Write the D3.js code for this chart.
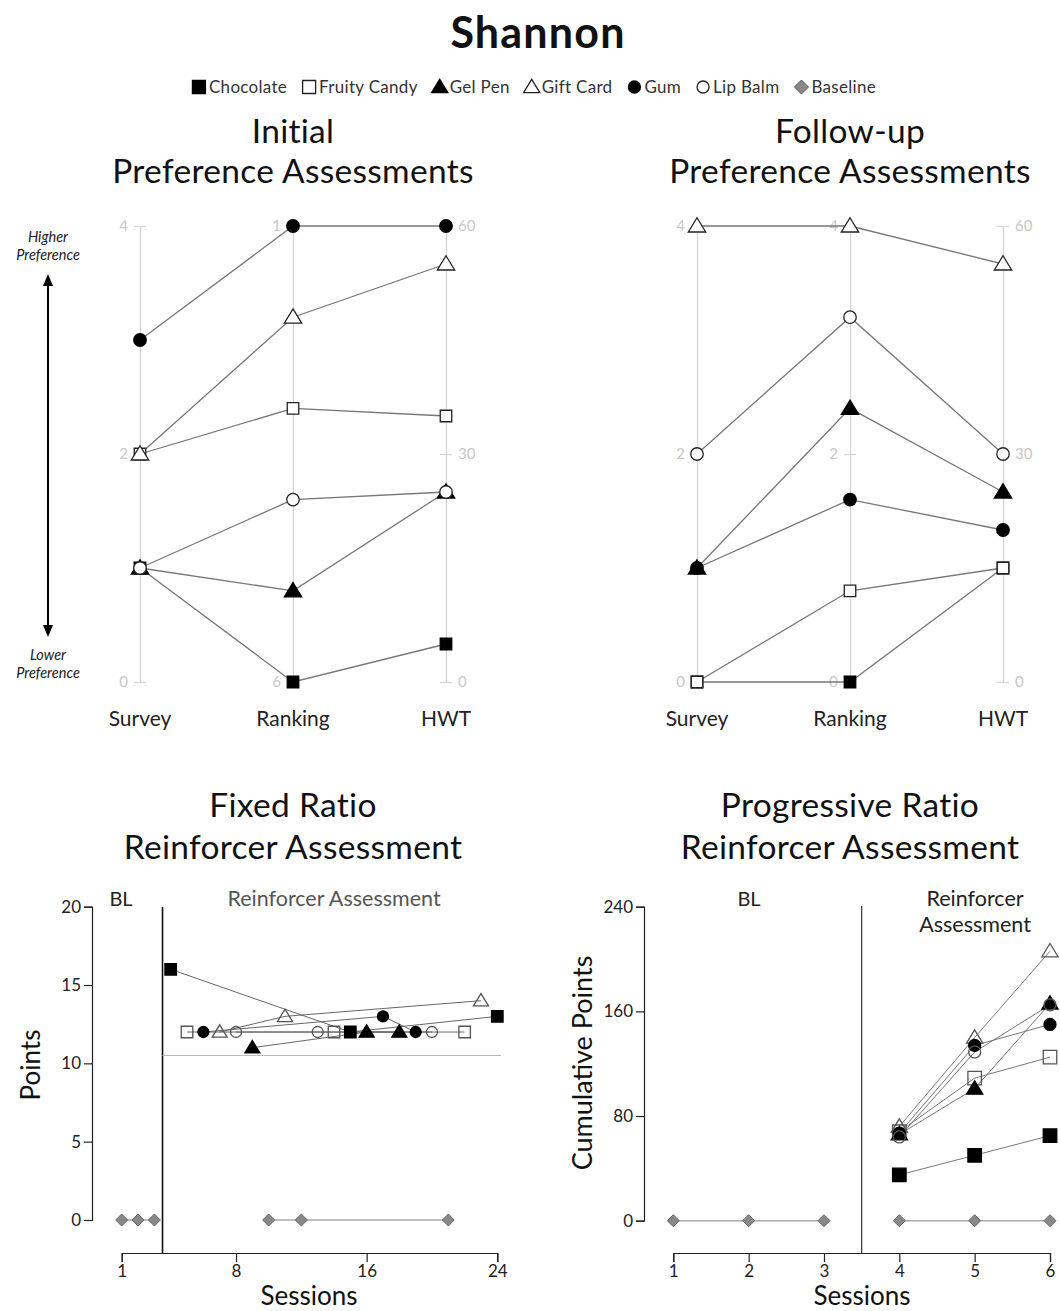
<!DOCTYPE html>
<html><head><meta charset="utf-8">
<script src="https://cdn.jsdelivr.net/npm/d3@7"></script>
<style>body{margin:0;background:#fff}</style>
</head><body>
<script>
// ---------- DATA ----------
const items = ["Chocolate","Fruity Candy","Gel Pen","Gift Card","Gum","Lip Balm"];
const shapes = ["square","square","triangle","triangle","circle","circle"];
const filled = [true,false,true,false,true,false];
const prefAxes = ["Survey","Ranking","HWT"];

const initialSurvey  = [1,2,1,2,3,1];
const initialRanking = [6,3,5,2,1,4];
const initialHWT     = [5,35,25,55,60,25];

const followSurvey  = [0,0,1,4,1,2];
const followRanking = [0,0.8,2.4,4,1.6,3.2];
const followHWT     = [15,15,25,55,20,30];

const surveyTicks = [0,2,4];
const initRankTicks = [1,6];
const followRankTicks = [0,2,4];
const hwtTicks = [0,30,60];

// Fixed ratio: [session, points]
const frChocolate   = [[4,16],[15,12],[24,13]];
const frFruityCandy = [[5,12],[14,12],[22,12]];
const frGelPen      = [[9,11],[16,12],[18,12]];
const frGiftCard    = [[7,12],[11,13],[23,14]];
const frGum         = [[6,12],[17,13],[19,12]];
const frLipBalm     = [[8,12],[13,12],[20,12]];
const frBaselineA   = [[1,0],[2,0],[3,0]];
const frBaselineB   = [[10,0],[12,0],[21,0]];
const frCriterion   = 10.5;
const frXTicks = [1,8,16,24];
const frYTicks = [0,5,10,15,20];

// Progressive ratio
const prSessions   = [4,5,6];
const prChocolate  = [35,50,65];
const prFruityCandy= [68,109,125];
const prGelPen     = [66,101,166];
const prGiftCard   = [72,140,206];
const prGum        = [67,134,150];
const prLipBalm    = [64,129,165];
const prBaselineA  = [[1,0],[2,0],[3,0]];
const prBaselineB  = [[4,0],[5,0],[6,0]];
const prXTicks = [1,2,3,4,5,6];
const prYTicks = [0,80,160,240];

// ---------- SETUP ----------
const F = "Lato, 'Noto Sans', sans-serif";
const fmt = d3.format("d");
const svg = d3.select("body").append("svg").attr("width",1060).attr("height",1311)
  .style("font-family",F);

function markerPath(shape, s){
  const h = s/2;
  if(shape==="square") return `M${-h},${-h}H${h}V${h}H${-h}Z`;
  if(shape==="circle") return `M${h},0A${h},${h} 0 1,1 ${-h},0A${h},${h} 0 1,1 ${h},0Z`;
  if(shape==="triangle"){ const w=s*0.58, t=s*0.55, b=s*0.4; return `M0,${-t}L${w},${b}L${-w},${b}Z`; }
  if(shape==="diamond") return `M0,${-h}L${h},0L0,${h}L${-h},0Z`;
}
function drawMarker(g, shape, isFilled, x, y, s, openFill, strokeCol){
  g.append("path").attr("d", markerPath(shape,s))
   .attr("transform",`translate(${x},${y})`)
   .attr("fill", isFilled? "#000" : openFill)
   .attr("stroke", isFilled? "#000" : strokeCol)
   .attr("stroke-width", 1.3);
}

// ---------- TITLE & LEGEND ----------
svg.append("text").attr("x",538).attr("y",48).attr("text-anchor","middle")
  .attr("font-size",43).attr("letter-spacing",1.2).attr("font-weight","bold").attr("fill","#111").text("Shannon");

const legNames = items.concat(["Baseline"]);
const legShapes = shapes.concat(["diamond"]);
const legFilled = filled.concat([null]);
const leg = svg.append("g");
let lx = 0;
const legGap = 15;
legNames.forEach((n,i)=>{
  const g = leg.append("g").attr("transform",`translate(${lx},0)`);
  const sz = legShapes[i]==="triangle"?14:(legShapes[i]==="circle"?12:13);
  if(legShapes[i]==="diamond"){
    g.append("path").attr("d",markerPath("diamond",14)).attr("transform","translate(7,-6)")
     .attr("fill","#888").attr("stroke","#555").attr("stroke-width",1);
  } else {
    drawMarker(g, legShapes[i], legFilled[i], 7, -6, sz, "#fff", "#222");
  }
  const t = g.append("text").attr("x",17).attr("y",0).attr("font-size",17).attr("letter-spacing",0.3).attr("fill","#333").text(n);
  lx += 17 + t.node().getComputedTextLength() + legGap;
});
lx -= legGap;
leg.attr("transform",`translate(${534 - lx/2},93)`);

// ---------- PREFERENCE PANELS ----------
const yTop = 226, yBot = 682;
function bigTitle(cx, y, t){
  svg.append("text").attr("x",cx).attr("y",y).attr("text-anchor","middle").attr("font-size",33.5)
    .attr("letter-spacing",0.3).attr("fill","#111").text(t);
}
function prefPanel(cx, title, survey, ranking, hwt, rankDomain, rankTicks){
  const xs = [cx-153, cx, cx+153];
  bigTitle(cx,143,title[0]);
  bigTitle(cx,183,title[1]);
  const ySurvey = d3.scaleLinear().domain([0,4]).range([yBot,yTop]);
  const yRank = d3.scaleLinear().domain(rankDomain).range([yBot,yTop]);
  const yHWT = d3.scaleLinear().domain([0,60]).range([yBot,yTop]);
  const scales = [ySurvey,yRank,yHWT];
  const defs = [[d3.axisLeft(ySurvey).tickValues(surveyTicks),-1],[d3.axisLeft(yRank).tickValues(rankTicks),-1],[d3.axisRight(yHWT).tickValues(hwtTicks),1]];
  defs.forEach(([ax,side],i)=>{
    const g = svg.append("g").attr("transform",`translate(${xs[i]},0)`).call(ax.tickFormat(fmt).tickSizeOuter(0).tickSizeInner(6));
    g.select(".domain").attr("stroke","#d4d4d4").attr("stroke-width",1.3);
    g.selectAll(".tick line").attr("x1",-6).attr("x2",6).attr("stroke","#d4d4d4").attr("stroke-width",1.3);
    g.selectAll(".tick text").attr("x", side*12).attr("font-size",15).attr("fill","#c8c8c8").attr("font-family",F);
    svg.append("text").attr("x",xs[i]).attr("y",726).attr("text-anchor","middle").attr("font-size",21).attr("fill","#222").text(prefAxes[i]);
  });
  const line = d3.line();
  items.forEach((n,k)=>{
    const vals=[survey[k],ranking[k],hwt[k]];
    svg.append("path").attr("d", line(vals.map((v,i)=>[xs[i],scales[i](v)])))
      .attr("fill","none").attr("stroke","#777").attr("stroke-width",1.3);
  });
  const mg = svg.append("g");
  items.forEach((n,k)=>{
    const vals=[survey[k],ranking[k],hwt[k]];
    const s = shapes[k]==="triangle"?15:(shapes[k]==="circle"?12.5:11.5);
    vals.forEach((v,i)=>drawMarker(mg, shapes[k], filled[k], xs[i], scales[i](v), s, "#fff", "#222"));
  });
}
prefPanel(293, ["Initial","Preference Assessments"], initialSurvey, initialRanking, initialHWT, [6,1], initRankTicks);
prefPanel(850, ["Follow-up","Preference Assessments"], followSurvey, followRanking, followHWT, [0,4], followRankTicks);

// arrow annotation
const ag = svg.append("g");
ag.append("line").attr("x1",48).attr("x2",48).attr("y1",282).attr("y2",628).attr("stroke","#000").attr("stroke-width",2);
ag.append("path").attr("d","M48,274L43,286L53,286Z").attr("fill","#000");
ag.append("path").attr("d","M48,637L43,625L53,625Z").attr("fill","#000");
[["Higher",242],["Preference",260],["Lower",660],["Preference",678]].forEach(([t,y])=>{
  ag.append("text").attr("x",48).attr("y",y).attr("text-anchor","middle").attr("font-size",14.5)
    .attr("font-style","italic").attr("fill","#222").text(t);
});

// ---------- BOTTOM PANELS ----------
function titles(cx, a, b){
  bigTitle(cx,817,a);
  bigTitle(cx,859,b);
}
function styleAxis(g){
  g.select(".domain").attr("stroke","#222").attr("stroke-width",1.2);
  g.selectAll(".tick line").attr("stroke","#222").attr("stroke-width",1.2);
  g.selectAll(".tick text").attr("font-size",17).attr("fill","#222").attr("font-family",F);
}
const xAxisY = 1253;

// Fixed ratio
titles(293,"Fixed Ratio","Reinforcer Assessment");
const frX = d3.scaleLinear().domain([1,24]).range([121.7,497.3]);
const frY = d3.scaleLinear().domain([0,20]).range([1220,906.7]);
{
  const gy = svg.append("g").attr("transform","translate(92,0)").call(d3.axisLeft(frY).tickValues(frYTicks).tickFormat(fmt).tickSizeOuter(0).tickSize(8).tickPadding(3));
  styleAxis(gy);
  const gx = svg.append("g").attr("transform",`translate(0,${xAxisY})`).call(d3.axisBottom(frX).tickValues(frXTicks).tickFormat(fmt).tickSizeOuter(0).tickSize(9).tickPadding(3));
  styleAxis(gx);
  svg.append("text").attr("transform","translate(40,1065) rotate(-90)").attr("text-anchor","middle").attr("font-size",26).attr("fill","#111").text("Points");
  svg.append("text").attr("x",309).attr("y",1305).attr("text-anchor","middle").attr("font-size",26).attr("fill","#111").text("Sessions");
  svg.append("line").attr("x1",frX(3.5)).attr("x2",frX(3.5)).attr("y1",907).attr("y2",xAxisY).attr("stroke","#111").attr("stroke-width",1.6);
  svg.append("line").attr("x1",frX(3.5)).attr("x2",501).attr("y1",frY(frCriterion)).attr("y2",frY(frCriterion)).attr("stroke","#bbb").attr("stroke-width",1.2);
  svg.append("text").attr("x",121).attr("y",906).attr("text-anchor","middle").attr("font-size",20).attr("fill","#222").text("BL");
  svg.append("text").attr("x",334).attr("y",906).attr("text-anchor","middle").attr("font-size",21.5).attr("fill","#555").text("Reinforcer Assessment");
  const line = d3.line().x(d=>frX(d[0])).y(d=>frY(d[1]));
  [frBaselineA,frBaselineB].forEach(seg=>svg.append("path").attr("d",line(seg)).attr("fill","none").attr("stroke","#aaa").attr("stroke-width",1.5));
  const frSeries = [frChocolate,frFruityCandy,frGelPen,frGiftCard,frGum,frLipBalm];
  frSeries.forEach(s=>svg.append("path").attr("d",line(s)).attr("fill","none").attr("stroke","#666").attr("stroke-width",1));
  const mg = svg.append("g");
  [frBaselineA,frBaselineB].forEach(seg=>seg.forEach(d=>{
    mg.append("path").attr("d",markerPath("diamond",12)).attr("transform",`translate(${frX(d[0])},${frY(d[1])})`).attr("fill","#888").attr("stroke","#666").attr("stroke-width",1);
  }));
  frSeries.forEach((s,k)=>{
    const sz = shapes[k]==="triangle"?13:(shapes[k]==="circle"?11:11.5);
    s.forEach(d=>drawMarker(mg, shapes[k], filled[k], frX(d[0]), frY(d[1]), sz, "none", "#555"));
  });
}

// Progressive ratio
titles(850,"Progressive Ratio","Reinforcer Assessment");
const prX = d3.scaleLinear().domain([1,6]).range([673.3,1050]);
const prY = d3.scaleLinear().domain([0,240]).range([1220.7,906.7]);
{
  const gy = svg.append("g").attr("transform","translate(644,0)").call(d3.axisLeft(prY).tickValues(prYTicks).tickFormat(fmt).tickSizeOuter(0).tickSize(8).tickPadding(3));
  styleAxis(gy);
  const gx = svg.append("g").attr("transform",`translate(0,${xAxisY})`).call(d3.axisBottom(prX).tickValues(prXTicks).tickFormat(fmt).tickSizeOuter(0).tickSize(9).tickPadding(3));
  styleAxis(gx);
  svg.append("text").attr("transform","translate(592,1063) rotate(-90)").attr("text-anchor","middle").attr("font-size",27).attr("fill","#111").text("Cumulative Points");
  svg.append("text").attr("x",862).attr("y",1305).attr("text-anchor","middle").attr("font-size",26).attr("fill","#111").text("Sessions");
  svg.append("line").attr("x1",prX(3.5)).attr("x2",prX(3.5)).attr("y1",906).attr("y2",xAxisY).attr("stroke","#333").attr("stroke-width",1.2);
  svg.append("text").attr("x",749).attr("y",906).attr("text-anchor","middle").attr("font-size",20).attr("fill","#222").text("BL");
  svg.append("text").attr("x",975).attr("y",906).attr("text-anchor","middle").attr("font-size",21.5).attr("fill","#222").text("Reinforcer");
  svg.append("text").attr("x",975).attr("y",932).attr("text-anchor","middle").attr("font-size",21.5).attr("fill","#222").text("Assessment");
  const line = d3.line().x(d=>prX(d[0])).y(d=>prY(d[1]));
  [prBaselineA,prBaselineB].forEach(seg=>svg.append("path").attr("d",line(seg)).attr("fill","none").attr("stroke","#aaa").attr("stroke-width",1.5));
  const prSeries = [prChocolate,prFruityCandy,prGelPen,prGiftCard,prGum,prLipBalm].map(v=>v.map((y,i)=>[prSessions[i],y]));
  prSeries.forEach(s=>svg.append("path").attr("d",line(s)).attr("fill","none").attr("stroke","#777").attr("stroke-width",1));
  const mg = svg.append("g");
  [prBaselineA,prBaselineB].forEach(seg=>seg.forEach(d=>{
    mg.append("path").attr("d",markerPath("diamond",12)).attr("transform",`translate(${prX(d[0])},${prY(d[1])})`).attr("fill","#888").attr("stroke","#666").attr("stroke-width",1);
  }));
  prSeries.forEach((s,k)=>{
    const sz = shapes[k]==="triangle"?14:(shapes[k]==="circle"?12:13.5);
    s.forEach(d=>drawMarker(mg, shapes[k], filled[k], prX(d[0]), prY(d[1]), sz, "none", "#555"));
  });
}
</script>
</body></html>
